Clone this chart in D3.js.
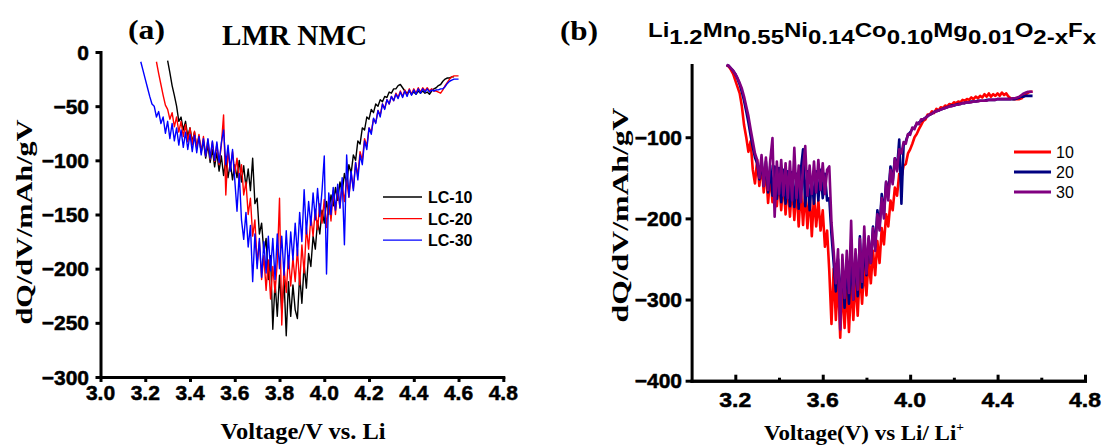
<!DOCTYPE html>
<html><head><meta charset="utf-8">
<script src="https://cdn.jsdelivr.net/npm/d3@7"></script>
<style>body{margin:0;background:#fff}svg{display:block}</style>
</head><body><svg id="c" width="1104" height="446"></svg>
<script>
// ---------- Panel (a) data ----------
const VA = [3.18,3.19,3.20,3.21,3.22,3.23,3.24,3.25,3.26,3.27,
3.28,3.29,3.30,3.31,3.32,3.33,3.34,3.35,3.36,3.37,
3.38,3.39,3.40,3.41,3.42,3.43,3.44,3.45,3.46,3.47,
3.48,3.49,3.50,3.51,3.52,3.53,3.54,3.55,3.56,3.57,
3.58,3.59,3.60,3.61,3.62,3.63,3.64,3.65,3.66,3.67,
3.68,3.69,3.70,3.71,3.72,3.73,3.74,3.75,3.76,3.77,
3.78,3.79,3.80,3.81,3.82,3.83,3.84,3.85,3.86,3.87,
3.88,3.89,3.90,3.91,3.92,3.93,3.94,3.95,3.96,3.97,
3.98,3.99,4.00,4.01,4.02,4.03,4.04,4.05,4.06,4.07,
4.08,4.09,4.10,4.11,4.12,4.13,4.14,4.15,4.16,4.17,
4.18,4.19,4.20,4.21,4.22,4.23,4.24,4.25,4.26,4.27,
4.28,4.29,4.30,4.31,4.32,4.33,4.34,4.35,4.36,4.37,
4.38,4.39,4.40,4.41,4.42,4.43,4.44,4.45,4.46,4.47,
4.48,4.49,4.50,4.51,4.52,4.53,4.54,4.55,4.56,4.57,
4.58,4.59,4.60];
const LC10 = [null,null,null,null,null,null,null,null,null,null,
null,null,-8,-19,-31,-40,-50,-64,-60,-72,
-64,-78,-70,-83,-74,-88,-78,-92,-82,-98,
-86,-102,-90,-106,-93,-110,-96,-114,-99,-116,
-102,-118,-104,-116,-100,-120,-105,-125,-108,-128,
-98,-140,-135,-168,-158,-185,-172,-210,-188,-256,
-212,-244,-206,-240,-210,-262,-212,-244,-215,-238,
-246,-206,-232,-196,-218,-186,-198,-170,-182,-156,
-168,-146,-158,-138,-150,-132,-142,-125,-137,-120,
-130,-112,-122,-104,-112,-95,-100,-82,-85,-70,
-72,-60,-62,-53,-56,-48,-50,-44,-46,-41,
-42,-37,-38,-34,-34,-31,-30,-33,-36,-38,
-36,-39,-37,-39,-36,-38,-36,-38,-37,-39,
-36,-34,-33,-31,-30,-27,-25,-24,-24,-23,
-23,null,null];
const LC20 = [null,null,null,null,null,null,null,-9,-20,-30,
-40,-49,-53,-62,-56,-69,-60,-74,-64,-78,
-67,-83,-70,-86,-73,-89,-76,-93,-78,-96,
-81,-99,-83,-101,-85,-104,-86,-58,-132,-90,
-108,-92,-112,-98,-120,-104,-132,-120,-150,-135,
-170,-155,-195,-175,-210,-188,-220,-192,-228,-198,
-222,-194,-135,-252,-198,-222,-188,-216,-190,-212,
-182,-215,-178,-204,-162,-182,-152,-170,-145,-164,
-140,-158,-136,-162,-135,-156,-128,-150,-125,-144,
-122,-138,-118,-134,-112,-126,-102,-114,-92,-100,
-80,-87,-70,-74,-62,-65,-54,-58,-48,-52,
-44,-48,-41,-45,-38,-42,-36,-41,-35,-40,
-34,-39,-34,-38,-33,-37,-33,-36,-33,-36,
-34,-36,-36,-37,-38,-35,-31,-28,-25,-23,
-22,-22,-22];
const LC30 = [-9,-17,-25,-33,-41,-48,-50,-60,-55,-66,
-60,-75,-64,-80,-66,-82,-70,-86,-72,-88,
-74,-90,-76,-92,-77,-93,-78,-95,-80,-96,
-80,-98,-82,-100,-83,-102,-84,-72,-104,-86,
-110,-90,-118,-147,-112,-155,-173,-148,-180,-160,
-212,-168,-200,-172,-208,-175,-204,-170,-202,-172,
-210,-168,-200,-170,-206,-165,-200,-166,-192,-158,
-188,-148,-175,-127,-168,-138,-160,-130,-155,-126,
-152,-128,-96,-205,-130,-150,-125,-146,-122,-144,
-116,-178,-95,-134,-110,-128,-102,-118,-95,-104,
-82,-90,-70,-76,-61,-66,-54,-60,-48,-53,
-44,-48,-41,-45,-39,-43,-37,-42,-36,-41,
-35,-40,-35,-39,-34,-38,-34,-37,-34,-37,
-35,-36,-35,-35,-34,-34,-32,-29,-27,-26,
-25,-25,-25];
const seriesANames = ["LC-10","LC-20","LC-30"];
const ticksAX = [3.0,3.2,3.4,3.6,3.8,4.0,4.2,4.4,4.6,4.8];
const ticksAY = [0,-50,-100,-150,-200,-250,-300];

// ---------- Panel (b) data ----------
const VB = [3.16,3.17,3.18,3.19,3.20,3.21,3.22,3.23,3.24,3.25,
3.26,3.27,3.28,3.29,3.30,3.31,3.32,3.33,3.34,3.35,
3.36,3.37,3.38,3.39,3.40,3.41,3.42,3.43,3.44,3.45,
3.46,3.47,3.48,3.49,3.50,3.51,3.52,3.53,3.54,3.55,
3.56,3.57,3.58,3.59,3.60,3.61,3.62,3.63,3.64,3.65,
3.66,3.67,3.68,3.69,3.70,3.71,3.72,3.73,3.74,3.75,
3.76,3.77,3.78,3.79,3.80,3.81,3.82,3.83,3.84,3.85,
3.86,3.87,3.88,3.89,3.90,3.91,3.92,3.93,3.94,3.95,
3.96,3.97,3.98,3.99,4.00,4.01,4.02,4.03,4.04,4.05,
4.06,4.07,4.08,4.09,4.10,4.11,4.12,4.13,4.14,4.15,
4.16,4.17,4.18,4.19,4.20,4.21,4.22,4.23,4.24,4.25,
4.26,4.27,4.28,4.29,4.30,4.31,4.32,4.33,4.34,4.35,
4.36,4.37,4.38,4.39,4.40,4.41,4.42,4.43,4.44,4.45,
4.46,4.47,4.48,4.49,4.50,4.51,4.52,4.53,4.54,4.55,
4.56];
const S10 = [-11,-13,-17,-22,-30,-38,-46,-62,-85,-100,
-118,-105,-140,-157,-128,-160,-132,-168,-138,-181,
-145,-180,-148,-185,-150,-190,-152,-195,-155,-198,
-158,-202,-160,-210,-162,-208,-165,-212,-168,-222,
-172,-210,-178,-215,-190,-235,-215,-265,-330,-262,
-325,-272,-347,-278,-335,-282,-340,-278,-325,-272,
-320,-262,-305,-258,-295,-248,-280,-240,-270,-228,
-255,-212,-232,-195,-210,-178,-190,-162,-172,-145,
-150,-135,-133,-120,-115,-108,-100,-96,-90,-85,
-80,-78,-72,-72,-68,-70,-65,-67,-63,-64,
-61,-62,-59,-60,-57,-58,-56,-57,-54,-55,
-53,-54,-51,-53,-50,-52,-49,-51,-47,-50,
-46,-50,-47,-49,-46,-49,-45,-48,-46,-50,
-52,-53,-53,-53,-53,-52,-49,-47,-45,-44,
-44];
const S20 = [-11,-12,-15,-18,-22,-28,-35,-44,-55,-68,
-82,-98,-112,-125,-132,-152,-128,-160,-130,-168,
-135,-172,-136,-176,-138,-180,-140,-182,-142,-185,
-143,-186,-145,-188,-140,-115,-185,-142,-190,-150,
-182,-142,-178,-140,-175,-145,-178,-175,-220,-255,
-290,-250,-305,-258,-310,-252,-305,-248,-300,-245,
-296,-222,-285,-230,-270,-225,-255,-210,-235,-190,
-210,-170,-195,-155,-170,-136,-155,-126,-140,-103,
-182,-110,-105,-97,-94,-90,-88,-84,-82,-80,
-78,-76,-74,-72,-71,-69,-68,-67,-66,-65,
-64,-63,-62,-61,-61,-60,-59,-59,-58,-58,
-57,-57,-56,-56,-56,-55,-55,-55,-55,-54,
-54,-54,-54,-54,-53,-53,-53,-53,-53,-53,
-53,-53,-53,-52,-51,-50,-50,-49,-49,-49,
-49];
const S30 = [-11,-12,-15,-18,-22,-27,-33,-40,-50,-62,
-74,-90,-105,-120,-128,-150,-122,-160,-125,-165,
-128,-101,-198,-130,-170,-128,-172,-132,-175,-130,
-178,-113,-175,-135,-180,-138,-111,-172,-135,-170,
-130,-168,-128,-165,-132,-170,-140,-136,-205,-240,
-280,-238,-337,-245,-298,-240,-292,-203,-300,-238,
-288,-225,-278,-210,-268,-222,-255,-212,-240,-195,
-215,-175,-200,-155,-178,-140,-158,-126,-142,-115,
-120,-106,-108,-96,-97,-88,-90,-82,-84,-78,
-78,-76,-74,-72,-71,-69,-68,-67,-66,-65,
-64,-63,-62,-62,-61,-60,-60,-59,-58,-58,
-57,-57,-57,-56,-56,-56,-55,-55,-55,-55,
-54,-54,-54,-54,-53,-53,-53,-53,-53,-53,
-53,-52,-52,-51,-50,-48,-46,-45,-44,-44,
-44];
const seriesBNames = ["10","20","30"];
const ticksBXMajor = [3.2,3.6,4.0,4.4,4.8];
const ticksBXMinor = [3.4,3.8,4.2,4.6];
const ticksBY = [-100,-200,-300,-400];

// ---------- drawing ----------
const svg = d3.select("#c");
const SANS = "'Liberation Sans', Arial, sans-serif";
const SERIF = "'Liberation Serif', 'Times New Roman', serif";

function styleAxis(g){
  g.select(".domain").attr("stroke","#000").attr("stroke-width",3).attr("stroke-linecap","square");
  g.selectAll(".tick line").attr("stroke","#000").attr("stroke-width",3);
  g.selectAll(".tick text").remove();
}
function boldLabel(sel, size){
  sel.attr("font-family",SANS).attr("font-weight","bold").attr("font-size",size)
    .attr("fill","#000").attr("stroke","#000").attr("stroke-width",0.5);
}

// Panel A scales
const xA = d3.scaleLinear().domain([3.0,4.8]).range([100.5,503.3]);
const yA = d3.scaleLinear().domain([-300,0]).range([377,52]);

const gAX = svg.append("g").attr("transform","translate(0,377)")
  .call(d3.axisBottom(xA).tickValues(ticksAX).tickSize(5).tickSizeOuter(0)); styleAxis(gAX);
const gAY = svg.append("g").attr("transform","translate(100.5,0)")
  .call(d3.axisLeft(yA).tickValues(ticksAY).tickSize(5).tickSizeOuter(0)); styleAxis(gAY);

svg.append("g").selectAll("text").data(ticksAX).join("text")
  .attr("x", d=>xA(d)).attr("y",400).attr("text-anchor","middle")
  .call(boldLabel,21).text(d=>d3.format(".1f")(d));
svg.append("g").selectAll("text").data(ticksAY).join("text")
  .attr("x", 89).attr("y", d=>yA(d)+7.5).attr("text-anchor","end")
  .call(boldLabel,21).text(d=>d3.format("d")(d));

const lineA = (arr)=> d3.line().defined((d,i)=>arr[i]!=null).x((d,i)=>xA(VA[i])).y((d,i)=>yA(arr[i]))(arr);
const colorsA = ["#000000","#ff0000","#0000ff"];
[LC10,LC20,LC30].forEach((arr,k)=>{
  svg.append("path").attr("d",lineA(arr)).attr("fill","none")
    .attr("stroke",colorsA[k]).attr("stroke-width",1.4).attr("stroke-linejoin","round");
});

// Legend A
const legA = svg.append("g");
seriesANames.forEach((n,k)=>{
  const y = 197 + k*21.6;
  legA.append("line").attr("x1",383).attr("x2",422).attr("y1",y).attr("y2",y)
    .attr("stroke",colorsA[k]).attr("stroke-width",1.3);
  legA.append("text").attr("x",428).attr("y",y+6).attr("font-family",SANS)
    .attr("font-weight","bold").attr("font-size",16).text(n);
});

// Titles A
svg.append("text").attr("x",128).attr("y",39).attr("font-family",SERIF).attr("font-weight","bold")
  .attr("font-size",28).attr("textLength",37).attr("lengthAdjust","spacingAndGlyphs").text("(a)");
svg.append("text").attr("x",222).attr("y",44.5).attr("font-family",SERIF).attr("font-weight","bold")
  .attr("font-size",29).attr("textLength",145).attr("lengthAdjust","spacingAndGlyphs").text("LMR NMC");
svg.append("text").attr("x",303).attr("y",439).attr("text-anchor","middle").attr("font-family",SERIF)
  .attr("font-weight","bold").attr("font-size",24).attr("textLength",165).attr("lengthAdjust","spacingAndGlyphs")
  .text("Voltage/V vs. Li");
svg.append("text").attr("transform","translate(32,222) rotate(-90)").attr("text-anchor","middle")
  .attr("font-family",SERIF).attr("font-weight","bold").attr("font-size",23)
  .attr("textLength",205).attr("lengthAdjust","spacingAndGlyphs").text("dQ/dV/mAh/gV");

// Panel B scales
const xB = d3.scaleLinear().domain([3.0,4.8]).range([691.6,1085]);
const yB = d3.scaleLinear().domain([-400,-11]).range([380.7,65]);

const gBX = svg.append("g").attr("transform","translate(0,380.7)")
  .call(d3.axisBottom(xB).tickValues(ticksBXMajor).tickSize(-6).tickSizeOuter(0)); styleAxis(gBX);
const gBXm = svg.append("g").attr("transform","translate(0,380.7)")
  .call(d3.axisBottom(xB).tickValues(ticksBXMinor).tickSize(-3).tickSizeOuter(0)); styleAxis(gBXm);
const gBY = svg.append("g").attr("transform","translate(691.6,0)")
  .call(d3.axisLeft(yB).tickValues(ticksBY).tickSize(6).tickSizeOuter(0)); styleAxis(gBY);

svg.append("g").selectAll("text").data(ticksBXMajor).join("text")
  .attr("x", d=>xB(d)).attr("y",407).attr("text-anchor","middle")
  .call(boldLabel,21).attr("textLength",32).attr("lengthAdjust","spacingAndGlyphs")
  .text(d=>d3.format(".1f")(d));
svg.append("g").selectAll("text").data(ticksBY).join("text")
  .attr("x", 682).attr("y", d=>yB(d)+7.5).attr("text-anchor","end")
  .call(boldLabel,21).text(d=>d3.format("d")(d));

const lineB = (arr)=> d3.line().defined((d,i)=>arr[i]!=null).x((d,i)=>xB(VB[i])).y((d,i)=>yB(arr[i]))(arr);
const colorsB = ["#ff0000","#000080","#800080"];
[S10,S20,S30].forEach((arr,k)=>{
  svg.append("path").attr("d",lineB(arr)).attr("fill","none")
    .attr("stroke",colorsB[k]).attr("stroke-width",2.6).attr("stroke-linejoin","round");
});

// Legend B
const legB = svg.append("g");
seriesBNames.forEach((n,k)=>{
  const y = 152 + k*20;
  legB.append("line").attr("x1",1014).attr("x2",1051).attr("y1",y).attr("y2",y)
    .attr("stroke",colorsB[k]).attr("stroke-width",3);
  legB.append("text").attr("x",1056).attr("y",y+6).attr("font-family",SANS)
    .attr("font-size",16).text(n);
});

// Titles B
svg.append("text").attr("x",560).attr("y",40).attr("font-family",SERIF).attr("font-weight","bold")
  .attr("font-size",28).attr("textLength",38).attr("lengthAdjust","spacingAndGlyphs").text("(b)");
const formula = [["Li",0],["1.2",1],["Mn",0],["0.55",1],["Ni",0],["0.14",1],["Co",0],["0.10",1],["Mg",0],["0.01",1],["O",0],["2-x",1],["F",0],["x",1]];
const ft = svg.append("text").attr("x",648).attr("y",37).attr("font-family",SANS).attr("font-weight","bold")
  .attr("font-size",21).attr("textLength",448).attr("lengthAdjust","spacingAndGlyphs");
let prev = 0;
formula.forEach(([t,s])=>{
  ft.append("tspan").attr("dy", (s-prev)*7).text(t);
  prev = s;
});
svg.append("text").attr("x",864).attr("y",440).attr("text-anchor","middle").attr("font-family",SERIF)
  .attr("font-weight","bold").attr("font-size",22).attr("textLength",200).attr("lengthAdjust","spacingAndGlyphs")
  .text("Voltage(V) vs Li/ Li").append("tspan").attr("dy",-9).attr("font-size",13).text("+");
svg.append("text").attr("transform","translate(628,215) rotate(-90)").attr("text-anchor","middle")
  .attr("font-family",SERIF).attr("font-weight","bold").attr("font-size",23)
  .attr("textLength",215).attr("lengthAdjust","spacingAndGlyphs").text("dQ/dV/mAh/gV");
</script></body></html>
